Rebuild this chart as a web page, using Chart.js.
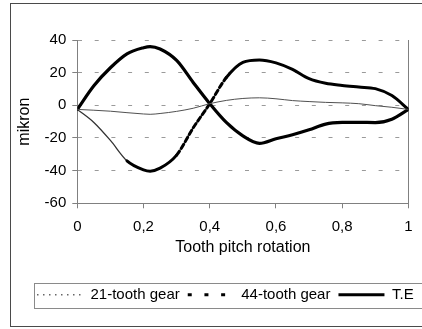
<!DOCTYPE html>
<html><head><meta charset="utf-8">
<script src="https://cdn.jsdelivr.net/npm/chart.js@4"></script>
<style>html,body{margin:0;padding:0;background:#fff;overflow:hidden}canvas{display:block}</style>
</head><body>
<canvas id="c" width="422" height="329"></canvas>
<script>
const xValues = [0, 0.05, 0.1, 0.15, 0.2, 0.22, 0.25, 0.3, 0.35, 0.4, 0.45, 0.5, 0.55, 0.6, 0.65, 0.7, 0.75, 0.8, 0.85, 0.9, 0.95, 1];
const gear21 = [-2.5, -3, -3.6, -4.5, -5.3, -5.5, -5, -3.7, -1.8, 1, 3, 4.2, 4.6, 4, 2.9, 2.3, 1.8, 1.5, 1, -0.2, -1.2, -2.5];
const gear44 = [-2.5, -10.5, -21.5, -34, -39.5, -40.3, -38.5, -30.5, -13.8, 1, 17, 26.3, 27.8, 26, 22, 16.3, 13.5, 12.2, 11.2, 10.2, 6, -2.5];
const transmissionError = [-2.5, 12, 23, 31.5, 35.3, 36, 34.5, 27.5, 14, 1, -10.5, -18.7, -23.3, -20.5, -18, -15, -11.5, -10.5, -10.4, -10.6, -8.5, -2.5];
const seriesNames = ['21-tooth gear', '44-tooth gear', 'T.E'];
const xTickLabels = ['0', '0,2', '0,4', '0,6', '0,8', '1'];
const xTitle = 'Tooth pitch rotation';
const yTitle = 'mikron';

const FONT = '"Liberation Sans", Arial, sans-serif';
const pts = arr => arr.map((y, i) => ({x: xValues[i], y}));

const legendStyles = [
  {dash: [1.5, 4.5], width: 1.5, color: '#666'},
  {dash: [4, 12.7], width: 3, color: '#000'},
  {dash: [], width: 3, color: '#000'}
];

const frames = {
  id: 'frames',
  afterLayout(chart) {
    chart.legend.left = 29;
    chart.legend.right = 560;
  },
  afterDraw(chart) {
    const c = chart.ctx;
    c.save();
    c.lineWidth = 1;
    c.setLineDash([]);
    c.strokeStyle = '#8a8a8a';
    c.strokeRect(34.5, 283.5, 500, 25);
    c.strokeStyle = '#4a4a4a';
    c.strokeRect(10.5, 3.5, 500, 323);
    c.restore();
  }
};

Chart.defaults.color = '#000';
Chart.defaults.font.family = FONT;

new Chart(document.getElementById('c'), {
  type: 'line',
  data: {
    datasets: [
      {
        label: seriesNames[0], data: pts(gear21),
        borderColor: '#505050', borderWidth: 1, pointRadius: 0,
        cubicInterpolationMode: 'monotone'
      },
      {
        label: seriesNames[1], data: pts(gear44),
        borderColor: '#000', borderWidth: 3, pointRadius: 0,
        borderJoinStyle: 'round', borderCapStyle: 'round',
        cubicInterpolationMode: 'monotone',
        segment: {
          borderWidth: s => s.p0.parsed.x < 0.14 ? 1.3 : 3,
          borderColor: s => s.p0.parsed.x < 0.14 ? '#333' : '#000',
          borderDash: s => (s.p0.parsed.x >= 0.29 && s.p0.parsed.x < 0.44) ? [5, 3] : []
        }
      },
      {
        label: seriesNames[2], data: pts(transmissionError),
        borderColor: '#000', borderWidth: 3.2, pointRadius: 0,
        borderJoinStyle: 'round', borderCapStyle: 'round',
        cubicInterpolationMode: 'monotone'
      }
    ]
  },
  options: {
    responsive: false,
    animation: false,
    events: [],
    layout: {padding: {left: 10, top: 40, right: 9.5, bottom: 16.8}},
    scales: {
      x: {
        type: 'linear', min: 0, max: 1,
        afterFit: s => { s.height = 75.9; },
        ticks: {stepSize: 0.2, padding: 9.4, font: {size: 15}, maxRotation: 0,
          callback: (v, i) => xTickLabels[i]},
        grid: {
          color: c => (c.tick && c.tick.value === 1) ? '#808080' : 'rgba(0,0,0,0)',
          tickColor: '#808080', tickLength: 5, drawOnChartArea: true
        },
        border: {display: true, color: '#808080', width: 1},
        title: {display: true, text: xTitle, font: {size: 16}, padding: {top: 2.7, bottom: 21.6}}
      },
      y: {
        min: -60, max: 40,
        afterFit: s => { s.width = 67.3; },
        ticks: {stepSize: 20, padding: 6, font: {size: 15}},
        grid: {
          color: c => (c.tick && c.tick.value === -60) ? 'rgba(0,0,0,0)' : '#9a9a9a',
          tickColor: '#808080', tickLength: 5
        },
        border: {display: true, color: '#808080', width: 1, dash: [4, 12.7]},
        title: {display: true, text: yTitle, font: {size: 16}, padding: {top: 5.4, bottom: 10}}
      }
    },
    plugins: {
      tooltip: {enabled: false},
      legend: {
        position: 'bottom', align: 'start',
        labels: {
          usePointStyle: true, pointStyleWidth: 46, boxHeight: 15, padding: 8,
          font: {size: 15}, color: '#000',
          generateLabels: chart => {
            const items = Chart.defaults.plugins.legend.labels.generateLabels(chart);
            items.forEach((it, i) => {
              const st = legendStyles[i];
              it.pointStyle = 'line';
              it.lineDash = st.dash;
              it.lineWidth = st.width;
              it.strokeStyle = st.color;
              it.lineCap = 'butt';
            });
            return items;
          }
        }
      }
    }
  },
  plugins: [frames]
});
</script>
</body></html>
